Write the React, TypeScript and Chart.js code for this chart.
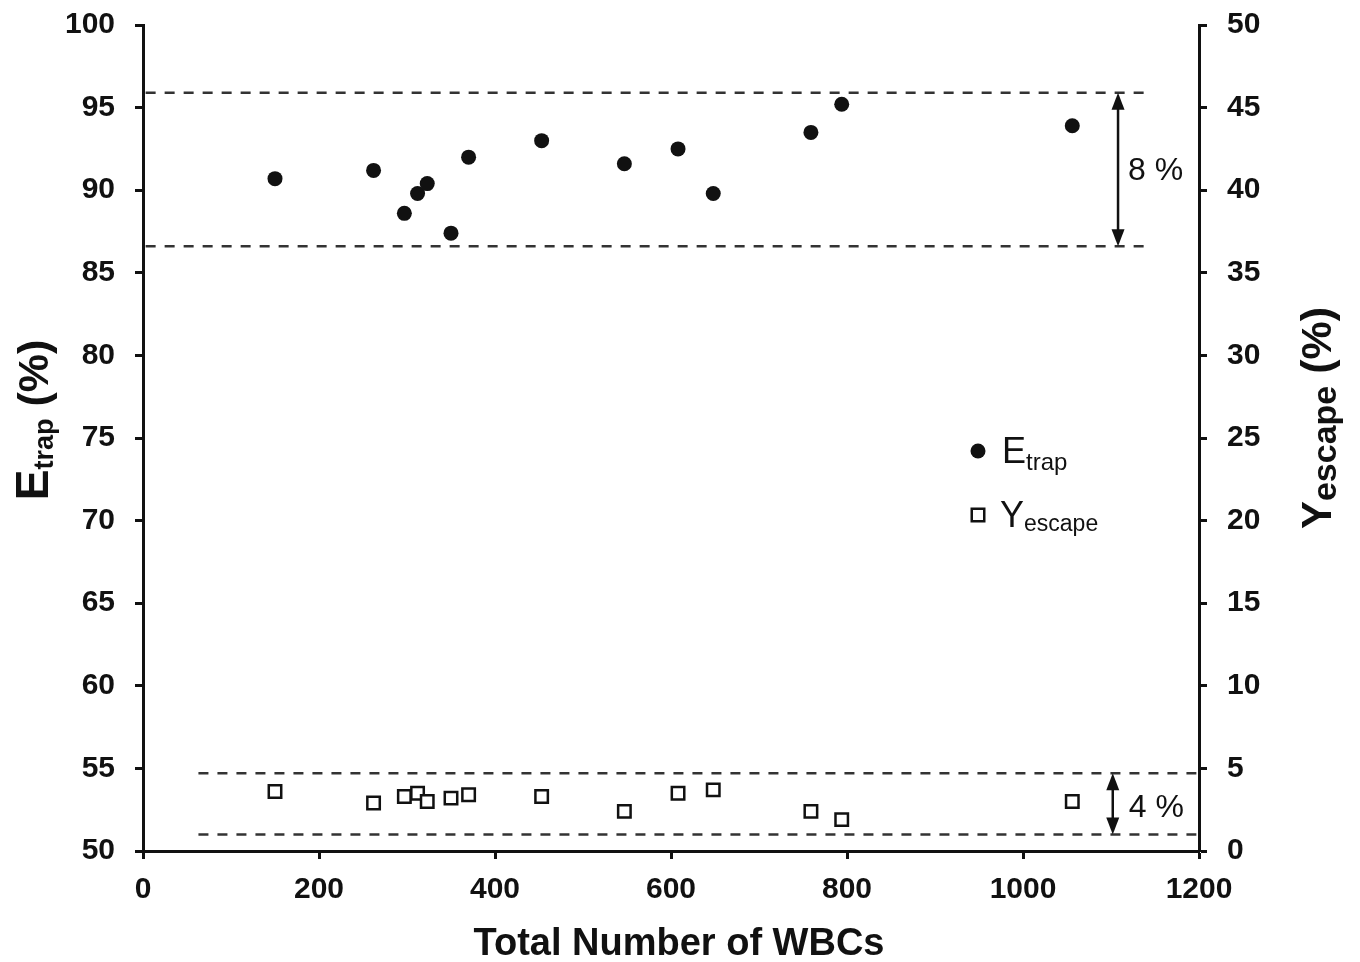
import React, { useEffect, useRef } from "react";
import { Chart, registerables } from "chart.js";

Chart.register(...registerables);

// ---- data ----
const wbcCounts = [150, 262, 297, 312, 323, 350, 370, 453, 547, 608, 648, 759, 794, 1056];
const etrapValues = [90.7, 91.2, 88.6, 89.8, 90.4, 87.4, 92.0, 93.0, 91.6, 92.5, 89.8, 93.5, 95.2, 93.9];
const yescapeValues = [3.6, 2.9, 3.3, 3.5, 3.0, 3.2, 3.4, 3.3, 2.4, 3.5, 3.7, 2.4, 1.9, 3.0];

const etrapBandLevels = [95.9, 86.6];
const etrapBandX = [3, 1140];
const yescapeBandLevels = [4.7, 1.0];
const yescapeBandX = [63, 1197];

const etrapArrowX = 1108;
const yescapeArrowX = 1102;
const etrapSpreadLabel = "8 %";
const yescapeSpreadLabel = "4 %";

const xTicks = [0, 200, 400, 600, 800, 1000, 1200];
const leftTicks = [50, 55, 60, 65, 70, 75, 80, 85, 90, 95, 100];
const rightTicks = [0, 5, 10, 15, 20, 25, 30, 35, 40, 45, 50];

const FONT = "'Liberation Sans', Arial, Helvetica, sans-serif";
const INK = "#111";

type Seg = { t: string; size: number; weight: string; dy: number };

function drawSegments(ctx: CanvasRenderingContext2D, segs: Seg[], startX: number) {
  let x = startX;
  for (const s of segs) {
    ctx.font = `${s.weight} ${s.size}px ${FONT}`;
    ctx.fillText(s.t, x, s.dy);
    x += ctx.measureText(s.t).width;
  }
}
function segWidth(ctx: CanvasRenderingContext2D, segs: Seg[]) {
  let w = 0;
  for (const s of segs) {
    ctx.font = `${s.weight} ${s.size}px ${FONT}`;
    w += ctx.measureText(s.t).width;
  }
  return w;
}

function drawArrow(ctx: CanvasRenderingContext2D, x: number, y1: number, y2: number) {
  const head = 17;
  const hw = 6.5;
  ctx.save();
  ctx.strokeStyle = INK;
  ctx.fillStyle = INK;
  ctx.lineWidth = 2.5;
  ctx.beginPath();
  ctx.moveTo(x, y1 + head - 2);
  ctx.lineTo(x, y2 - head + 2);
  ctx.stroke();
  ctx.beginPath();
  ctx.moveTo(x, y1);
  ctx.lineTo(x - hw, y1 + head);
  ctx.lineTo(x + hw, y1 + head);
  ctx.closePath();
  ctx.fill();
  ctx.beginPath();
  ctx.moveTo(x, y2);
  ctx.lineTo(x - hw, y2 - head);
  ctx.lineTo(x + hw, y2 - head);
  ctx.closePath();
  ctx.fill();
  ctx.restore();
}

const decorPlugin = {
  id: "decor",
  afterDraw(chart: any) {
    const ctx: CanvasRenderingContext2D = chart.ctx;
    const xs = chart.scales.x;
    const ys = chart.scales.y;
    const y2s = chart.scales.y2;

    ctx.save();
    ctx.fillStyle = INK;
    ctx.textBaseline = "alphabetic";
    ctx.textAlign = "left";

    // arrows
    drawArrow(
      ctx,
      xs.getPixelForValue(etrapArrowX),
      ys.getPixelForValue(etrapBandLevels[0]),
      ys.getPixelForValue(etrapBandLevels[1])
    );
    drawArrow(
      ctx,
      xs.getPixelForValue(yescapeArrowX),
      y2s.getPixelForValue(yescapeBandLevels[0]),
      y2s.getPixelForValue(yescapeBandLevels[1])
    );

    // spread labels
    ctx.font = `normal 32px ${FONT}`;
    ctx.textBaseline = "middle";
    const m1 = (ys.getPixelForValue(etrapBandLevels[0]) + ys.getPixelForValue(etrapBandLevels[1])) / 2;
    ctx.fillText(etrapSpreadLabel, xs.getPixelForValue(etrapArrowX) + 10, m1 + 2);
    const m2 = (y2s.getPixelForValue(yescapeBandLevels[0]) + y2s.getPixelForValue(yescapeBandLevels[1])) / 2;
    ctx.fillText(yescapeSpreadLabel, xs.getPixelForValue(yescapeArrowX) + 16, m2 + 4);
    ctx.textBaseline = "alphabetic";

    // x title
    ctx.font = `bold 38px ${FONT}`;
    ctx.textAlign = "center";
    ctx.fillText("Total Number of WBCs", 679, 955);
    ctx.textAlign = "left";

    // left title
    const leftSegs: Seg[] = [
      { t: "E", size: 46, weight: "bold", dy: 0 },
      { t: "trap", size: 27, weight: "bold", dy: 5 },
      { t: " (%)", size: 43, weight: "bold", dy: 0 },
    ];
    ctx.save();
    ctx.translate(48, 420);
    ctx.rotate(-Math.PI / 2);
    drawSegments(ctx, leftSegs, -segWidth(ctx, leftSegs) / 2);
    ctx.restore();

    // right title
    const rightSegs: Seg[] = [
      { t: "Y", size: 42, weight: "bold", dy: 0 },
      { t: "escape", size: 34, weight: "bold", dy: 5 },
      { t: " (%)", size: 43, weight: "bold", dy: 0 },
    ];
    ctx.save();
    ctx.translate(1331, 418);
    ctx.rotate(-Math.PI / 2);
    drawSegments(ctx, rightSegs, -segWidth(ctx, rightSegs) / 2);
    ctx.restore();

    // legend
    const lx = 978;
    const ly1 = 451;
    const ly2 = 515;
    ctx.beginPath();
    ctx.arc(lx, ly1, 7.5, 0, Math.PI * 2);
    ctx.fill();
    drawSegments(
      ctx,
      [
        { t: "E", size: 36, weight: "normal", dy: ly1 + 12 },
        { t: "trap", size: 24, weight: "normal", dy: ly1 + 19 },
      ],
      lx + 24
    );
    ctx.lineWidth = 2.5;
    ctx.strokeStyle = INK;
    ctx.strokeRect(lx - 6.25, ly2 - 6.25, 12.5, 12.5);
    drawSegments(
      ctx,
      [
        { t: "Y", size: 36, weight: "normal", dy: ly2 + 12 },
        { t: "escape", size: 23, weight: "normal", dy: ly2 + 16 },
      ],
      lx + 22
    );

    ctx.restore();
  },
};

const plainLabel = (v: any) => String(v);

export default function App() {
  const canvasRef = useRef<HTMLCanvasElement | null>(null);

  useEffect(() => {
    if (!canvasRef.current) return;
    const dashStyle = {
      borderColor: "#333",
      borderWidth: 2.5,
      borderDash: [10, 9],
      pointRadius: 0,
      showLine: true,
      fill: false,
    };
    const tickFont = { family: FONT, size: 30, weight: "bold", lineHeight: 1 };
    const gridCfg = { drawOnChartArea: false, drawTicks: true, tickLength: 8, tickWidth: 3, tickColor: INK };
    const borderCfg = { display: true, width: 3, color: INK };
    const chart = new Chart(canvasRef.current, {
      type: "scatter",
      data: {
        datasets: [
          {
            label: "Etrap",
            data: wbcCounts.map((x, i) => ({ x, y: etrapValues[i] })),
            yAxisID: "y",
            pointStyle: "circle",
            pointRadius: 7.5,
            backgroundColor: INK,
            borderColor: INK,
            borderWidth: 0,
          },
          {
            label: "Yescape",
            data: wbcCounts.map((x, i) => ({ x, y: yescapeValues[i] })),
            yAxisID: "y2",
            pointStyle: "rect",
            pointRadius: 8.8,
            backgroundColor: "#fff",
            borderColor: INK,
            borderWidth: 2.5,
          },
          ...etrapBandLevels.map((lvl, i) => ({
            label: "etrapBand" + i,
            data: etrapBandX.map((x) => ({ x, y: lvl })),
            yAxisID: "y",
            ...dashStyle,
          })),
          ...yescapeBandLevels.map((lvl, i) => ({
            label: "yescapeBand" + i,
            data: yescapeBandX.map((x) => ({ x, y: lvl })),
            yAxisID: "y2",
            ...dashStyle,
          })),
        ] as any,
      },
      options: {
        animation: false,
        responsive: false,
        devicePixelRatio: 1,
        layout: { padding: { top: 25, left: 0, right: 0, bottom: 0 } },
        plugins: {
          legend: { display: false },
          tooltip: { enabled: false },
          title: { display: false },
        },
        scales: {
          x: {
            type: "linear",
            position: "bottom",
            min: 0,
            max: 1200,
            afterBuildTicks: (s: any) => {
              s.ticks = xTicks.map((v) => ({ value: v }));
            },
            afterFit: (s: any) => {
              s.height = 111;
              s.paddingLeft = 0;
              s.paddingRight = 0;
            },
            grid: gridCfg,
            border: borderCfg,
            ticks: {
              font: { ...tickFont, lineHeight: 1.2 },
              color: INK,
              padding: 13,
              maxRotation: 0,
              autoSkip: false,
              callback: plainLabel,
            },
          },
          y: {
            type: "linear",
            position: "left",
            min: 50,
            max: 100,
            afterBuildTicks: (s: any) => {
              s.ticks = leftTicks.map((v) => ({ value: v }));
            },
            afterFit: (s: any) => {
              s.width = 143;
              s.paddingTop = 0;
              s.paddingBottom = 0;
            },
            grid: gridCfg,
            border: borderCfg,
            ticks: {
              font: tickFont,
              color: INK,
              padding: 20,
              autoSkip: false,
              callback: plainLabel,
            },
          },
          y2: {
            type: "linear",
            position: "right",
            min: 0,
            max: 50,
            afterBuildTicks: (s: any) => {
              s.ticks = rightTicks.map((v) => ({ value: v }));
            },
            afterFit: (s: any) => {
              s.width = 161;
              s.paddingTop = 0;
              s.paddingBottom = 0;
            },
            grid: gridCfg,
            border: borderCfg,
            ticks: {
              font: tickFont,
              color: INK,
              padding: 20,
              autoSkip: false,
              callback: plainLabel,
            },
          },
        },
      } as any,
      plugins: [decorPlugin],
    });
    return () => chart.destroy();
  }, []);

  return (
    <div style={{ position: "absolute", left: 0, top: 0, width: 1360, height: 962, background: "#fff" }}>
      <canvas ref={canvasRef} width={1360} height={962} style={{ width: 1360, height: 962, display: "block" }} />
    </div>
  );
}
